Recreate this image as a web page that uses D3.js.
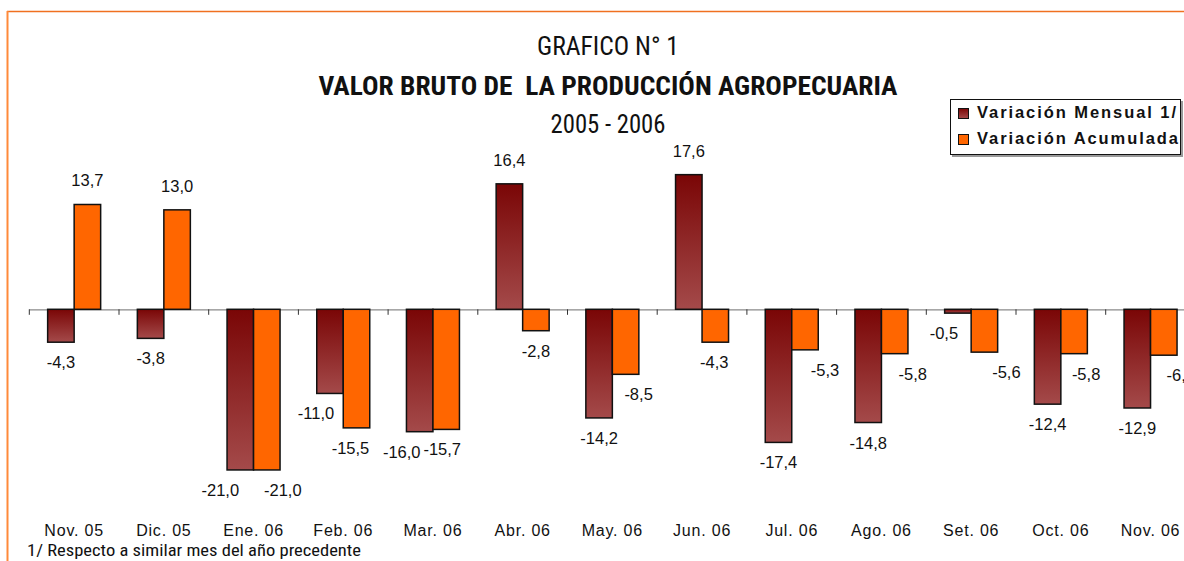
<!DOCTYPE html>
<html><head><meta charset="utf-8">
<script src="https://cdn.jsdelivr.net/npm/d3@7"></script>
<style>
html,body{margin:0;padding:0;background:#fff;overflow:hidden}
svg{display:block}
text.title{white-space:pre}
</style></head>
<body><svg id="c" width="1184" height="561"></svg>
<script>
const categories = ["Nov. 05","Dic. 05","Ene. 06","Feb. 06","Mar. 06","Abr. 06","May. 06","Jun. 06","Jul. 06","Ago. 06","Set. 06","Oct. 06","Nov. 06"];
const mensual = [-4.3,-3.8,-21.0,-11.0,-16.0,16.4,-14.2,17.6,-17.4,-14.8,-0.5,-12.4,-12.9];
const acumulada = [13.7,13.0,-21.0,-15.5,-15.7,-2.8,-8.5,-4.3,-5.3,-5.8,-5.6,-5.8,-6.0];
const seriesNames = ["Variación Mensual 1/","Variación Acumulada"];
const titleLines = ["GRAFICO N° 1","VALOR BRUTO DE  LA PRODUCCIÓN AGROPECUARIA","2005 - 2006"];
const footnote = "1/ Respecto a similar mes del año precedente";

// label horizontal nudges (layout only)
const dxMensual = [0,0,-20,-14,-18,0,0,0,0,0,-14,0,0];
const dxAcum = [0,0,16,-6,-4,0,13,-1,20,18,22,12,17];

const svg = d3.select("#c");
const defs = svg.append("defs");
const g1 = defs.append("linearGradient").attr("id","gm").attr("x1",0).attr("y1",0).attr("x2",0).attr("y2",1);
g1.append("stop").attr("offset","0%").attr("stop-color","#7a0606");
g1.append("stop").attr("offset","100%").attr("stop-color","#a44a4a");

// frame
svg.append("line").attr("x1",7).attr("x2",1184).attr("y1",11.5).attr("y2",11.5).attr("stroke","#f07020").attr("stroke-width",1.5);
svg.append("line").attr("x1",7.5).attr("x2",7.5).attr("y1",11).attr("y2",561).attr("stroke","#ff8a3a").attr("stroke-width",2);

const x0 = d3.scaleBand().domain(categories).range([29.3, 29.3 + 13*89.7]).padding(0);
const x1 = d3.scaleBand().domain([0,1]).range([0, x0.bandwidth()]).paddingInner(0).paddingOuter(0.6925);
const zeroY = 309.3, k = 7.65;
const y = d3.scaleLinear().domain([-25, 20]).range([zeroY + 25*k, zeroY - 20*k]);

// axis
const axisG = svg.append("g").attr("transform",`translate(0,${y(0)})`)
  .call(d3.axisBottom(x0).tickSize(0).tickFormat(""));
axisG.select(".domain").attr("d",`M${x0.range()[0]},0.5H1184`).attr("stroke","#8a8a8a").attr("stroke-width",1.2);
const tickPos = categories.map(c => x0(c)).concat([x0.range()[1]]);
axisG.selectAll("line.tk").data(tickPos).join("line").attr("class","tk")
  .attr("x1",d=>d).attr("x2",d=>d).attr("y1",0).attr("y2",5.5).attr("stroke","#333").attr("stroke-width",1);

const data = categories.map((c,i)=>({c,i,m:mensual[i],a:acumulada[i]}));
const fmt = v => d3.format(".1f")(v).replace(".",",").replace("−","-");

const grp = svg.append("g");
// bars
grp.selectAll("rect.m").data(data).join("rect").attr("class","m")
  .attr("x",d=>x0(d.c)+x1(0)).attr("width",x1.bandwidth())
  .attr("y",d=>y(Math.max(0,d.m))).attr("height",d=>Math.abs(y(d.m)-y(0)))
  .attr("fill","url(#gm)").attr("stroke","#111").attr("stroke-width",1.5);
grp.selectAll("rect.a").data(data).join("rect").attr("class","a")
  .attr("x",d=>x0(d.c)+x1(1)).attr("width",x1.bandwidth())
  .attr("y",d=>y(Math.max(0,d.a))).attr("height",d=>Math.abs(y(d.a)-y(0)))
  .attr("fill","#ff6600").attr("stroke","#111").attr("stroke-width",1.5);

const lblFont = "'Liberation Sans', Arial, sans-serif";
function labels(key, idx, dxs){
  grp.selectAll("text.l"+key).data(data).join("text").attr("class","l"+key)
    .attr("x",d=>x0(d.c)+x1(idx)+x1.bandwidth()/2 + dxs[d.i])
    .attr("y",d=>d[key]>=0 ? y(d[key])-18 : y(d[key])+26)
    .attr("text-anchor","middle").attr("font-family",lblFont).attr("font-size",16.5)
    .attr("fill","#111").text(d=>fmt(d[key]));
}
labels("m",0,dxMensual);
labels("a",1,dxAcum);

// category labels
svg.selectAll("text.cat").data(categories).join("text").attr("class","cat")
  .attr("x",d=>x0(d)+x0.bandwidth()/2).attr("y",536)
  .attr("text-anchor","middle").attr("font-family",lblFont).attr("font-size",16)
  .attr("letter-spacing",0.8).attr("fill","#111").text(d=>d);

// titles
const narrow = "'Liberation Sans Narrow','Arial Narrow','Roboto Condensed', 'Liberation Sans', sans-serif";
const tl = [
  {t:titleLines[0], y:55, w:142, bold:false},
  {t:titleLines[1], y:95, w:579, bold:true},
  {t:titleLines[2], y:133, w:115, bold:false}
];
svg.selectAll("text.title").data(tl).join("text").attr("class","title")
  .attr("x",608).attr("y",d=>d.y).attr("text-anchor","middle")
  .attr("font-family",narrow).attr("font-size",25).attr("font-weight",d=>d.bold?"bold":"normal")
  .attr("textLength",d=>d.w).attr("lengthAdjust","spacingAndGlyphs")
  .attr("fill","#111").text(d=>d.t);

// footnote
svg.append("text").attr("x",27).attr("y",556).attr("font-family",narrow).attr("font-size",16)
  .attr("textLength",334).attr("lengthAdjust","spacingAndGlyphs").attr("fill","#111").text(footnote);

// legend
const lg = svg.append("g");
lg.append("rect").attr("x",952).attr("y",101).attr("width",231).attr("height",56).attr("fill","#999");
lg.append("rect").attr("x",950.5).attr("y",99.5).attr("width",230).attr("height",55).attr("fill","#fff").attr("stroke","#111").attr("stroke-width",1);
const fills = ["url(#gm)","#ff6600"];
seriesNames.forEach((s,i)=>{
  lg.append("rect").attr("x",958.5).attr("y",108.5+i*26).attr("width",10).attr("height",10)
    .attr("fill",fills[i]).attr("stroke","#111").attr("stroke-width",1);
  lg.append("text").attr("x",977).attr("y",118+i*26).attr("font-family",lblFont).attr("font-weight","bold")
    .attr("font-size",16.5).attr("textLength",i===0?199:201).attr("lengthAdjust","spacing").attr("fill","#111").text(s);
});
</script></body></html>
